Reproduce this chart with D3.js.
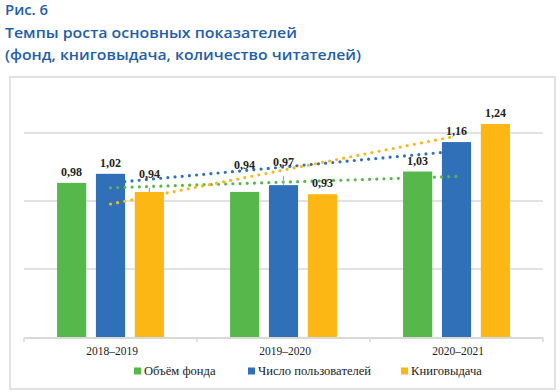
<!DOCTYPE html>
<html>
<head>
<meta charset="utf-8">
<script src="https://cdn.jsdelivr.net/npm/d3@7"></script>
<style>
  body { margin: 0; background: #fff; }
  svg { display: block; }
</style>
</head>
<body>
<div class="chart"></div>
<script>
(function() {
// data
var categories = ['2018–2019', '2019–2020', '2020–2021'];
var seriesNames = ['Объём фонда', 'Число пользователей', 'Книговыдача'];
var fondValues = [0.98, 0.94, 1.03];
var usersValues = [1.02, 0.97, 1.16];
var issueValues = [0.94, 0.93, 1.24];
var gridValues = [0.6, 0.9, 1.2];
var titleLines = ['Рис. 6', 'Темпы роста основных показателей', '(фонд, книговыдача, количество читателей)'];

var allValues = [fondValues, usersValues, issueValues];
var colors = ['#56b84a', '#2f70b8', '#fdb714'];

var width = 560, height = 392;
var svg = d3.select('.chart').append('svg')
    .attr('width', width)
    .attr('height', height);

// title (widths matched to the source layout)
var titleW = [43, 292, 356];
svg.selectAll('.title')
    .data(titleLines)
    .enter().append('text')
    .attr('class', 'title')
    .attr('x', 5)
    .attr('y', (d, i) => [15, 38, 60][i])
    .attr('textLength', (d, i) => titleW[i])
    .attr('lengthAdjust', 'spacingAndGlyphs')
    .style('font-family', '"Open Sans", sans-serif')
    .style('font-weight', 600)
    .style('font-size', '14.5px')
    .style('fill', '#1f5ea8')
    .text(d => d);

// chart frame
svg.append('rect')
    .attr('x', 10).attr('y', 77)
    .attr('width', 545).attr('height', 312)
    .style('fill', 'none')
    .style('stroke', '#d9d9d9')
    .style('stroke-width', 1.5);

var x0 = d3.scaleBand().domain(categories).range([24, 543]);
var x1 = d3.scaleBand().domain(d3.range(3)).range([0, x0.bandwidth()])
    .paddingInner(0.25).paddingOuter(0.85);
var y = d3.scaleLinear().domain([0.3, 1.5]).range([337, 65]);

// gridlines
svg.selectAll('.grid')
    .data(gridValues)
    .enter().append('line')
    .attr('x1', 24).attr('x2', 543)
    .attr('y1', d => y(d)).attr('y2', d => y(d))
    .style('stroke', '#d9d9d9')
    .style('stroke-width', 1.5);

// bars
var rows = [];
allValues.forEach((vals, s) => vals.forEach((v, c) => rows.push({s: s, c: c, v: v})));

svg.selectAll('.bar')
    .data(rows)
    .enter().append('rect')
    .attr('class', 'bar')
    .attr('x', d => x0(categories[d.c]) + x1(d.s))
    .attr('width', x1.bandwidth())
    .attr('y', d => y(d.v))
    .attr('height', d => y(0.3) - y(d.v))
    .style('fill', d => colors[d.s]);

// x axis
var xAxis = svg.append('g')
    .attr('transform', 'translate(0,' + (y(0.3) + 1) + ')')
    .call(d3.axisBottom(x0).tickSize(0).tickPadding(9));
xAxis.select('.domain')
    .attr('d', 'M24,0H543')
    .style('stroke', '#d9d9d9')
    .style('stroke-width', 2);
xAxis.selectAll('.sep')
    .data(x0.domain().concat(['end']))
    .enter().append('line')
    .attr('x1', (d, i) => 24 + i * x0.step())
    .attr('x2', (d, i) => 24 + i * x0.step())
    .attr('y1', 0).attr('y2', 4)
    .style('stroke', '#d9d9d9')
    .style('stroke-width', 1.5);
xAxis.selectAll('text')
    .attr('dx', 1.5)
    .style('font-family', '"Liberation Serif", serif')
    .style('font-size', '11.5px')
    .style('fill', '#222');

// linear trendlines (least squares on category index)
function trend(vals) {
    var xs = vals.map((v, i) => i + 1);
    var mx = d3.mean(xs), my = d3.mean(vals);
    var slope = d3.sum(xs, (xv, i) => (xv - mx) * (vals[i] - my)) / d3.sum(xs, xv => (xv - mx) * (xv - mx));
    return xs.map(xv => my + slope * (xv - mx));
}
var line = d3.line()
    .x((d, i) => x0(categories[i]) + x0.bandwidth() / 2)
    .y(d => y(d));

svg.selectAll('.trend')
    .data(allValues)
    .enter().append('path')
    .attr('d', d => line(trend(d)))
    .style('fill', 'none')
    .style('stroke', (d, i) => colors[i])
    .style('stroke-width', 3.2)
    .style('stroke-linecap', 'round')
    .style('stroke-dasharray', '0 7.2');

// labels (a few are lifted like in the source, with leader lines)
var lift = {'2|0': 7, '0|1': 16, '1|1': 12};
var leader = {'2|0': true, '1|1': true};

rows.filter(d => leader[d.s + '|' + d.c]).forEach(function(d) {
    var cx = x0(categories[d.c]) + x1(d.s) + x1.bandwidth() / 2;
    svg.append('line')
        .attr('x1', cx).attr('x2', cx)
        .attr('y1', y(d.v) - lift[d.s + '|' + d.c] + 3)
        .attr('y2', y(d.v))
        .style('stroke', '#a6a6a6')
        .style('stroke-width', 1.2);
});

svg.selectAll('.label')
    .data(rows)
    .enter().append('text')
    .attr('x', d => x0(categories[d.c]) + x1(d.s) + x1.bandwidth() / 2)
    .attr('y', d => y(d.v) - 7 - (lift[d.s + '|' + d.c] || 0))
    .attr('text-anchor', 'middle')
    .style('font-family', '"Liberation Serif", serif')
    .style('font-weight', 'bold')
    .style('font-size', '12px')
    .style('fill', '#222')
    .text(d => d3.format('.2f')(d.v).replace('.', ','));

// legend
var legendX = [134, 248, 401];
var legend = svg.selectAll('.legend')
    .data(seriesNames)
    .enter().append('g')
    .attr('transform', (d, i) => 'translate(' + legendX[i] + ',371)');
legend.append('rect')
    .attr('x', 0).attr('y', -3.5)
    .attr('width', 7).attr('height', 7)
    .style('fill', (d, i) => colors[i]);
legend.append('text')
    .attr('x', 10).attr('y', 4)
    .style('font-family', '"Liberation Serif", serif')
    .style('font-size', '12.6px')
    .style('fill', '#222')
    .text(d => d);
}())
</script>
</body>
</html>
